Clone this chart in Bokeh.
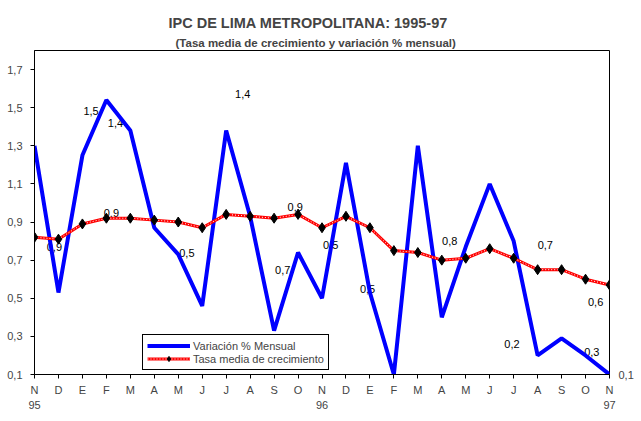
from bokeh.plotting import figure
from bokeh.models import (ColumnDataSource, FixedTicker, CustomJSTickFormatter, LinearAxis,
                          Legend, LegendItem, LabelSet, Title, Range1d)
from bokeh.core.properties import value
from bokeh.embed import file_html
from bokeh.resources import INLINE

# ---------------- data ----------------
months = ["N", "D", "E", "F", "M", "A", "M", "J", "J", "A", "S", "O",
          "N", "D", "E", "F", "M", "A", "M", "J", "J", "A", "S", "O", "N"]
years = ["95", "96", "97"]
year_pos = [0, 12, 24]

variacion = [1.30, 0.53, 1.25, 1.54, 1.38, 0.87, 0.73, 0.46, 1.38, 0.93, 0.33, 0.74,
             0.50, 1.21, 0.53, 0.10, 1.30, 0.40, 0.77, 1.10, 0.80, 0.20, 0.29, 0.20, 0.10]
tasa = [0.82, 0.81, 0.89, 0.92, 0.92, 0.91, 0.90, 0.87, 0.94, 0.93, 0.92, 0.94,
        0.87, 0.93, 0.87, 0.75, 0.74, 0.70, 0.71, 0.76, 0.71, 0.65, 0.65, 0.60, 0.57]

y_ticks = [0.1, 0.3, 0.5, 0.7, 0.9, 1.1, 1.3, 1.5, 1.7]

lbl_text = ["1,5", "1,4", "0,9", "0,9", "1,4", "0,9", "0,7", "0,5",
            "0,5", "0,5", "0,8", "0,7", "0,2", "0,3", "0,6", "0,1"]
lbl_x = [2.36, 3.38, 3.21, 0.83, 8.69, 10.88, 10.36, 6.36,
         12.36, 13.90, 17.33, 21.32, 19.93, 23.26, 23.42, 24.63]
lbl_y = [1.48, 1.42, 0.95, 0.77, 1.57, 0.98, 0.65, 0.74,
         0.78, 0.55, 0.80, 0.78, 0.26, 0.22, 0.48, 0.10]

FONT = "Liberation Sans"
idx = list(range(len(months)))
src = ColumnDataSource(dict(x=idx, var=variacion, tasa=tasa))
x_max = len(months) - 1
inside = [i for i, xv in enumerate(lbl_x) if xv <= x_max]
outside = [i for i, xv in enumerate(lbl_x) if xv > x_max]
lsrc_in = ColumnDataSource(dict(x=[lbl_x[i] for i in inside], y=[lbl_y[i] for i in inside],
                                t=[lbl_text[i] for i in inside]))
out_y = [lbl_y[i] for i in outside]
out_t = [lbl_text[i] for i in outside]

p = figure(width=641, height=421, x_range=Range1d(0, x_max), y_range=Range1d(0.1, 1.8),
           output_backend="svg", toolbar_location=None,
           min_border_left=34, min_border_right=32, min_border_top=50, min_border_bottom=47,
           background_fill_color="white", border_fill_color="white")

p.xgrid.visible = False
p.ygrid.visible = False
p.outline_line_color = "black"
p.outline_line_alpha = 1
p.outline_line_width = 1

# titles
sub = Title(text="(Tasa media de crecimiento y variación % mensual)", align="left", offset=141,
            text_font=FONT, text_font_size="11.5px", text_font_style="bold", standoff=4)
main = Title(text="IPC DE LIMA METROPOLITANA: 1995-97", align="left", offset=134,
             text_font=FONT, text_font_size="14.5px", text_font_style="bold", standoff=4)
p.add_layout(sub, "above")
p.add_layout(main, "above")

# axes
xa = p.xaxis[0]
xa.ticker = FixedTicker(ticks=idx)
xa.formatter = CustomJSTickFormatter(args=dict(labels=months), code="return labels[Math.round(tick)];")
xa.major_tick_in = 0
xa.major_tick_out = 4
xa.minor_tick_line_color = None
xa.major_label_standoff = 5
xa.major_label_text_font = FONT
xa.major_label_text_font_size = "11px"
xa.axis_line_color = "black"
xa.major_tick_line_color = "black"

ya = LinearAxis(ticker=FixedTicker(ticks=year_pos),
                formatter=CustomJSTickFormatter(args=dict(labels=years, pos=year_pos),
                                                code="return labels[pos.indexOf(Math.round(tick))];"),
                major_tick_in=0, major_tick_out=0, minor_tick_line_color=None,
                axis_line_color=None, major_tick_line_color=None,
                major_label_standoff=2, major_label_text_font=FONT, major_label_text_font_size="11px")
p.add_layout(ya, "below")

yax = p.yaxis[0]
yax.ticker = FixedTicker(ticks=y_ticks)
yax.formatter = CustomJSTickFormatter(code="return tick.toFixed(1).replace('.', ',');")
yax.major_tick_in = 0
yax.major_tick_out = 4
yax.minor_tick_line_color = None
yax.major_label_standoff = 8
yax.major_label_text_font = FONT
yax.major_label_text_font_size = "11px"

# data label lying outside the frame (last point), shown via a bare right-hand axis
ra = LinearAxis(ticker=FixedTicker(ticks=out_y),
                formatter=CustomJSTickFormatter(args=dict(labels=out_t, pos=out_y),
                                                code="let k = 0; let d = 1e9; for (let i = 0; i < pos.length; i++) { const e = Math.abs(pos[i] - tick); if (e < d) { d = e; k = i; } } return labels[k];"),
                major_tick_in=0, major_tick_out=0, minor_tick_line_color=None,
                axis_line_color=None, major_tick_line_color=None,
                major_label_standoff=9, major_label_text_font=FONT, major_label_text_font_size="11px")
p.add_layout(ra, "right")

# data labels inside the frame (under the lines)
labels_in = LabelSet(x="x", y="y", text="t", source=lsrc_in, text_align="center", text_baseline="middle",
                     text_font=value(FONT), text_font_size=value("11px"), text_color="black",
                     level="underlay")
p.add_layout(labels_in)

# series
blue = p.line("x", "var", source=src, line_color="#0000FF", line_width=4)
red = p.line("x", "tasa", source=src, line_color="#FF0000", line_width=3)
redw = p.line("x", "tasa", source=src, line_color="white", line_width=1, line_dash="1 2")
dia = p.scatter("x", "tasa", source=src, marker="diamond", size=10, fill_color="black", line_color="black")

legend = Legend(items=[LegendItem(label="Variación % Mensual", renderers=[blue]),
                       LegendItem(label="Tasa media de crecimiento", renderers=[red, redw, dia])],
                location=(108, 4), margin=0, padding=4, spacing=0,
                glyph_width=43, glyph_height=13, label_height=13, label_standoff=3,
                label_text_font=FONT, label_text_font_size="11px",
                border_line_color="black", border_line_width=1, border_line_alpha=1,
                background_fill_color="white", background_fill_alpha=1)
p.add_layout(legend)

open("out.html", "w").write(file_html(p, INLINE))
